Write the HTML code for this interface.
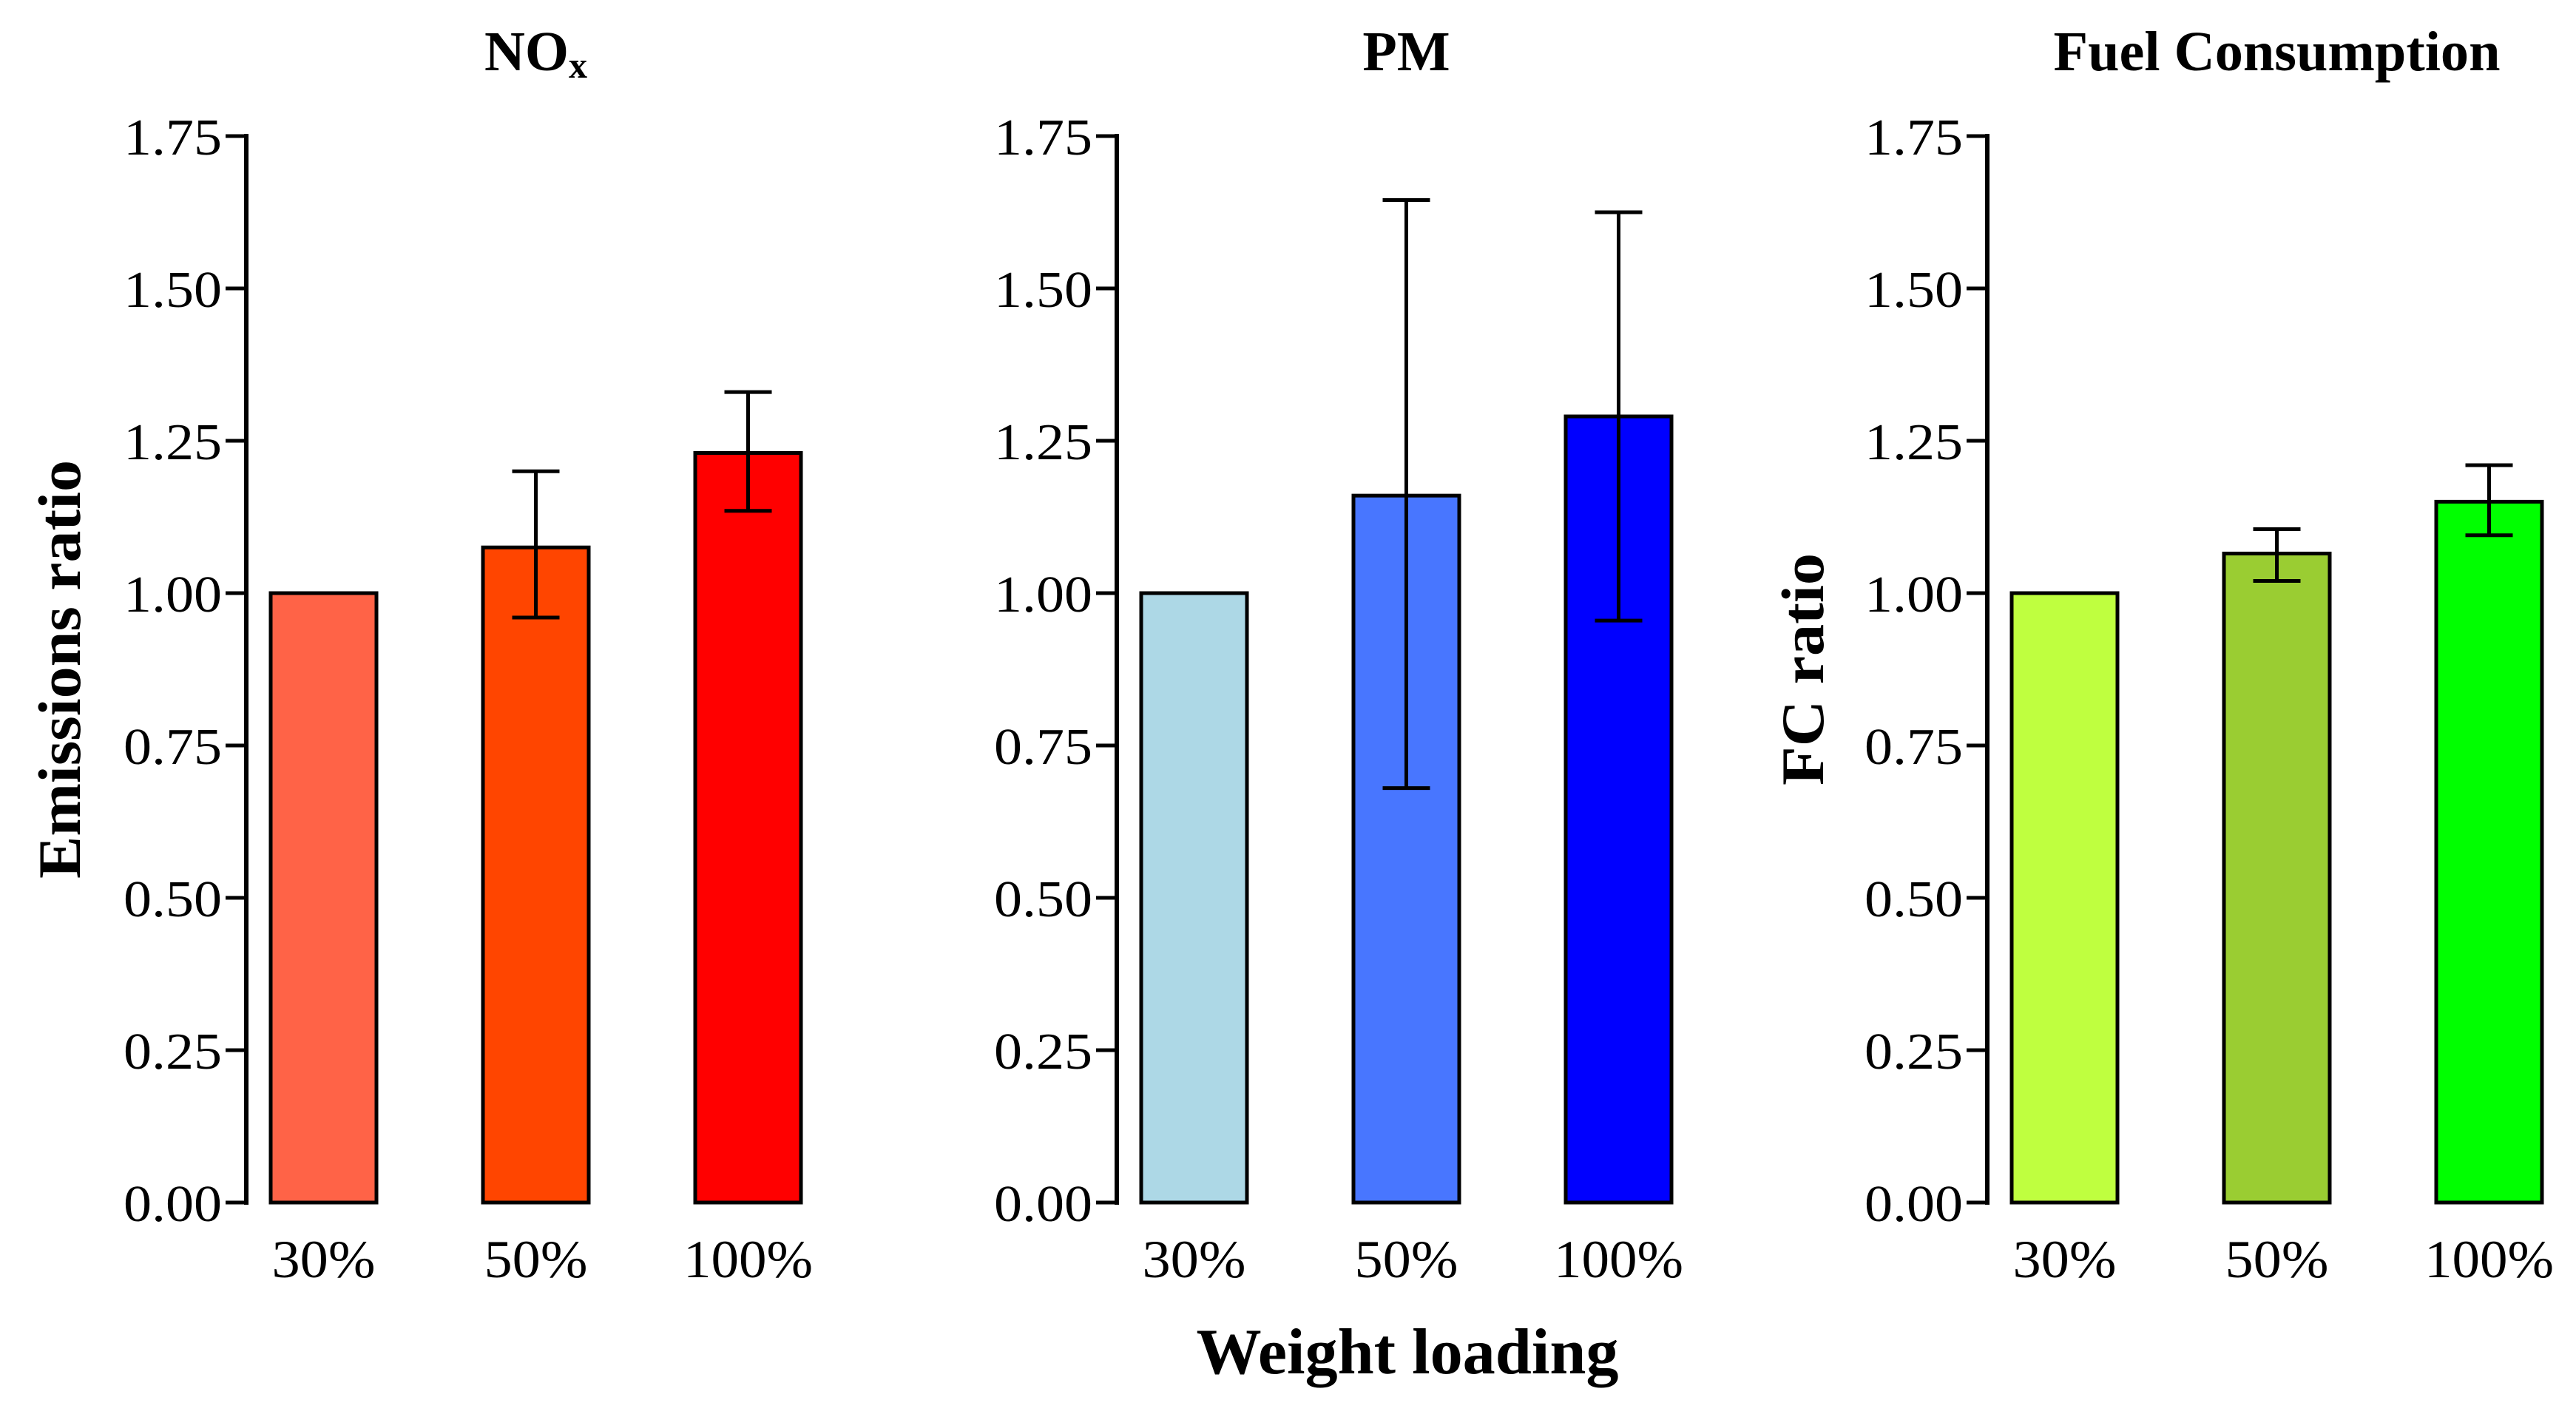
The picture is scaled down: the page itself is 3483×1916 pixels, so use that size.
<!DOCTYPE html>
<html><head><meta charset="utf-8"><style>html,body{margin:0;padding:0;background:#fff}svg{display:block}</style></head>
<body>
<svg id="chart" width="3483" height="1916" viewBox="0 0 3483 1916" xmlns="http://www.w3.org/2000/svg" font-family="'Liberation Serif', serif">
<rect width="3483" height="1916" fill="#fff"/>
<g id="root"></g>
<text x="1903" y="1857" text-anchor="middle" font-weight="bold" font-size="88" textLength="571" lengthAdjust="spacingAndGlyphs">Weight loading</text>
</svg>
<script>
const categories = ["30%", "50%", "100%"];
const panelTitles = ["NOx", "PM", "Fuel Consumption"];
const noxValues = [1.0, 1.075, 1.23];
const noxLow = [null, 0.96, 1.135];
const noxHigh = [null, 1.2, 1.33];
const pmValues = [1.0, 1.16, 1.29];
const pmLow = [null, 0.68, 0.955];
const pmHigh = [null, 1.645, 1.625];
const fcValues = [1.0, 1.065, 1.15];
const fcLow = [null, 1.02, 1.095];
const fcHigh = [null, 1.105, 1.21];
const yTicks = [0, 0.25, 0.5, 0.75, 1.0, 1.25, 1.5, 1.75];
const yTickLabels = ["0.00", "0.25", "0.50", "0.75", "1.00", "1.25", "1.50", "1.75"];

const NS = "http://www.w3.org/2000/svg";
const root = document.getElementById("root");
function mk(tag, attrs, parent) {
  const e = document.createElementNS(NS, tag);
  for (const k in attrs) e.setAttribute(k, attrs[k]);
  (parent || root).appendChild(e);
  return e;
}
const yTop = 184, yBot = 1626, yMax = 1.75;
function yScale(v) { return yBot - (v / yMax) * (yBot - yTop); }

const panels = [
  {axisX: 333, vals: noxValues, lo: noxLow, hi: noxHigh, colors: ["#ff6347", "#ff4500", "#ff0000"], ytitle: "Emissions ratio", name: "nox"},
  {axisX: 1510, vals: pmValues, lo: pmLow, hi: pmHigh, colors: ["#add8e6", "#4876ff", "#0000ff"], ytitle: null, name: "pm"},
  {axisX: 2687, vals: fcValues, lo: fcLow, hi: fcHigh, colors: ["#bfff3f", "#9acd32", "#00ff00"], ytitle: "FC ratio", name: "fc"}
];

panels.forEach((p, pi) => {
  const g = mk("g", {});
  
  
  function xCenter(i) { return p.axisX + 33 + 71.5 + i * 287; }
  const t = mk("text", {x: xCenter(1), y: 95, "text-anchor": "middle", "font-weight": "bold", "font-size": "76"}, g);
  
  
  if (panelTitles[pi] === "NOx") {
    t.textContent = "NO";
    const s = mk("tspan", {"font-size": "50", dy: "10"}, t);
    s.textContent = "x";
  } else {
    t.textContent = panelTitles[pi];
    if (pi === 2) { t.setAttribute("textLength", "604"); t.setAttribute("lengthAdjust", "spacingAndGlyphs"); }
  }
  const ax = mk("line", {x1: p.axisX, x2: p.axisX, y1: yTop - 3, y2: yBot + 3, stroke: "#000", "stroke-width": 6}, g);
  
  
  yTicks.forEach((v, i) => {
    const y = yScale(v);
    const tk = mk("line", {x1: p.axisX - 28, x2: p.axisX, y1: y, y2: y, stroke: "#000", "stroke-width": 5}, g);
    
    
    const tl = mk("text", {x: p.axisX - 33, y: y + 25, "text-anchor": "end", "font-size": "70", textLength: "133", lengthAdjust: "spacingAndGlyphs"}, g);
    
    
    tl.textContent = yTickLabels[i];
  });
  p.vals.forEach((v, i) => {
    const cx = xCenter(i);
    const b = mk("rect", {x: cx - 71.5, y: yScale(v), width: 143, height: yBot - yScale(v), fill: p.colors[i], stroke: "#000", "stroke-width": 5}, g);
    
    
    if (p.lo[i] !== null) {
      const eg = mk("g", {stroke: "#000", "stroke-width": 5}, g);
      
      
      mk("line", {x1: cx, x2: cx, y1: yScale(p.lo[i]), y2: yScale(p.hi[i])}, eg);
      mk("line", {x1: cx - 32, x2: cx + 32, y1: yScale(p.lo[i]), y2: yScale(p.lo[i])}, eg);
      mk("line", {x1: cx - 32, x2: cx + 32, y1: yScale(p.hi[i]), y2: yScale(p.hi[i])}, eg);
    }
    const xl = mk("text", {x: cx, y: 1727, "text-anchor": "middle", "font-size": "72", textLength: i === 2 ? "175" : "140", lengthAdjust: "spacingAndGlyphs"}, g);
    
    
    xl.textContent = categories[i];
  });
  if (p.ytitle) {
    const isFC = p.ytitle === "FC ratio";
    const cxT = isFC ? 2465 : 108, cyT = isFC ? 905 : 905;
    const yt = mk("text", {x: cxT, y: cyT, "text-anchor": "middle", "font-weight": "bold", "font-size": "82", transform: "rotate(-90 " + cxT + " " + cyT + ")", textLength: isFC ? "314" : "566", lengthAdjust: "spacingAndGlyphs"}, g);
    
    
    yt.textContent = p.ytitle;
  }
});
</script>
</body></html>
